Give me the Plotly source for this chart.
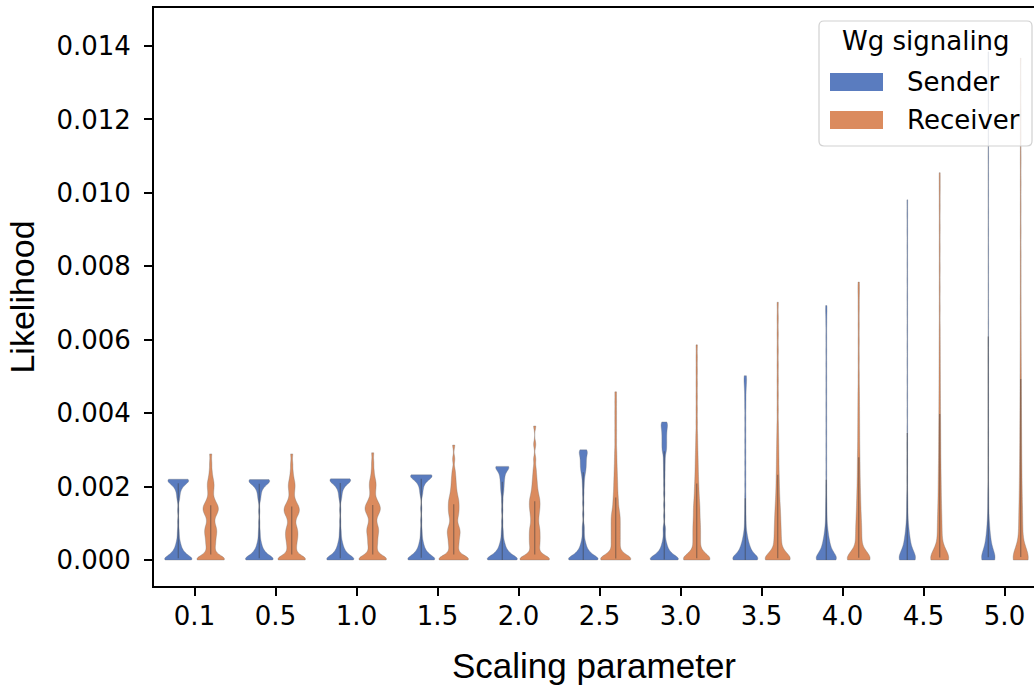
import plotly.graph_objects as go

# ---------------- data ----------------
CATEGORIES = ["0.1", "0.5", "1.0", "1.5", "2.0", "2.5", "3.0", "3.5", "4.0", "4.5", "5.0"]
GROUPS = ["Sender", "Receiver"]
UNIT = 1e-4  # sample values below are likelihoods in units of 1e-4

SENDER_01 = [0, 0, 0, 0, 0, 0, 0, 0, 0, 0, 0, 0, 0, 0, 0, 0, 0.6, 0.6, 0.6, 0.6, 1.3, 1.3, 1.3, 1.3, 1.8, 1.8, 1.8, 2.6, 2.6, 2.6, 3.5, 3.5, 4.5, 4.5, 5.6, 6.8, 8.2, 10.5, 13.5, 16.3, 17.2, 18.0, 18.7, 19.3, 19.9, 19.9, 20.4, 20.4, 20.9, 20.9, 21.3, 21.3, 21.3, 21.7, 21.7, 21.7, 22.0, 22.0, 22.0, 22.0, 22.0, 22.0, 22.0, 22.0, 22.0]
SENDER_05 = [0, 0, 0, 0, 0, 0, 0, 0, 0, 0, 0, 0, 0, 0, 0, 0, 0.6, 0.6, 0.6, 0.6, 1.2, 1.2, 1.2, 1.2, 1.8, 1.8, 1.8, 2.5, 2.5, 2.5, 3.4, 3.4, 4.4, 4.4, 5.5, 6.7, 8.1, 10.3, 13.3, 16.2, 17.1, 17.9, 18.6, 19.2, 19.8, 19.8, 20.3, 20.3, 20.8, 20.8, 21.2, 21.2, 21.2, 21.6, 21.6, 21.6, 21.9, 21.9, 21.9, 21.9, 21.9, 21.9, 21.9, 21.9, 21.9]
SENDER_10 = [0, 0, 0, 0, 0, 0, 0, 0, 0, 0, 0, 0, 0, 0, 0, 0, 0.6, 0.6, 0.6, 0.6, 1.3, 1.3, 1.3, 1.3, 1.9, 1.9, 1.9, 2.7, 2.7, 2.7, 3.6, 3.6, 4.6, 4.6, 5.7, 6.9, 8.3, 10.6, 13.6, 16.4, 17.3, 18.1, 18.8, 19.4, 20.0, 20.0, 20.5, 20.5, 21.0, 21.0, 21.4, 21.4, 21.4, 21.8, 21.8, 21.8, 22.1, 22.1, 22.1, 22.1, 22.1, 22.1, 22.1, 22.1, 22.1]
SENDER_15 = [0, 0, 0, 0, 0, 0, 0, 0, 0, 0, 0, 0, 0, 0, 0, 0, 0.6, 0.6, 0.6, 0.6, 1.3, 1.3, 1.3, 1.3, 1.8, 1.8, 1.8, 2.6, 2.6, 2.6, 3.5, 3.5, 4.5, 4.5, 5.6, 6.8, 8.3, 10.8, 14.0, 17.5, 18.4, 19.2, 19.9, 20.5, 21.1, 21.1, 21.6, 21.6, 22.1, 22.1, 22.5, 22.5, 22.5, 22.9, 22.9, 22.9, 23.2, 23.2, 23.2, 23.2, 23.2, 23.2, 23.2, 23.2, 23.2, 23.2]
SENDER_20 = [0, 0, 0, 0, 0, 0, 0, 0, 0, 0, 0, 0, 0, 0, 0, 0, 0.6, 0.6, 0.6, 0.6, 1.3, 1.3, 1.3, 1.3, 1.8, 1.8, 1.8, 2.6, 2.6, 2.6, 3.5, 3.5, 4.5, 4.5, 5.6, 6.8, 8.2, 10.5, 13.5, 16.0, 18.0, 19.0, 19.9, 20.7, 21.5, 22.2, 22.8, 23.4, 23.9, 24.3, 24.7, 25.0, 25.3, 25.5, 25.5, 25.5, 25.5, 25.5, 25.5]
SENDER_25 = [0, 0, 0, 0, 0, 0, 0, 0, 0, 0, 0, 0, 0, 0, 0, 0, 0.6, 0.6, 0.6, 0.6, 1.3, 1.3, 1.3, 1.3, 1.8, 1.8, 1.8, 2.6, 2.6, 2.6, 3.5, 3.5, 4.5, 4.5, 5.6, 6.8, 8.2, 9.5, 12.5, 15.5, 18.0, 20.0, 21.5, 22.7, 23.6, 24.2, 24.8, 25.3, 25.8, 26.3, 26.8, 27.3, 27.8, 28.3, 28.7, 29.1, 29.5, 29.8, 30.0, 30.0]
SENDER_30 = [0, 0, 0, 0, 0, 0, 0, 0, 0, 0, 0, 0, 0, 0, 0, 0, 0.6, 0.6, 0.6, 0.6, 1.3, 1.3, 1.3, 1.3, 1.8, 1.8, 1.8, 2.6, 2.6, 2.6, 3.5, 3.5, 4.5, 4.5, 5.6, 6.8, 8.2, 9.0, 12.0, 15.0, 18.0, 20.5, 22.7, 24.6, 26.3, 27.8, 29.2, 29.8, 30.4, 31.0, 31.6, 32.2, 32.8, 33.4, 34.0, 34.6, 35.2, 35.7, 36.2, 36.7, 37.1, 37.4, 37.6]
SENDER_35 = [0, 0, 0, 0, 0, 0, 0, 0, 0, 0, 0, 0, 0, 0, 0, 0, 0.7, 0.7, 0.7, 0.7, 1.5, 1.5, 1.5, 1.5, 2.3, 2.3, 2.3, 3.2, 3.2, 3.2, 4.2, 4.2, 4.2, 5.4, 5.4, 6.8, 6.8, 8.4, 10.2, 12.3, 14.8, 17.5, 20.5, 23.5, 26.5, 29.5, 32.5, 35.5, 38.5, 41.5, 44.0, 46.3, 48.0, 49.3, 50.2]
SENDER_40 = [0, 0, 0, 0, 0, 0, 0, 0, 0, 0, 0, 0, 0, 0, 0, 0, 0.8, 0.8, 0.8, 0.8, 1.7, 1.7, 1.7, 1.7, 2.7, 2.7, 2.7, 3.8, 3.8, 3.8, 5.0, 5.0, 5.0, 6.4, 6.4, 8.0, 8.0, 9.8, 11.8, 14.0, 16.5, 20.0, 23.7, 27.4, 31.1, 34.8, 38.5, 42.2, 45.9, 49.6, 53.3, 57.0, 60.7, 64.4, 67.4, 69.3]
SENDER_45 = [0, 0, 0, 0, 0, 0, 0, 0, 0, 0, 0, 0, 0, 0, 0, 0, 0.9, 0.9, 0.9, 0.9, 1.9, 1.9, 1.9, 1.9, 3.0, 3.0, 3.0, 4.2, 4.2, 4.2, 5.6, 5.6, 5.6, 7.1, 7.1, 8.8, 8.8, 10.7, 12.8, 15.1, 17.7, 22.2, 26.7, 31.2, 35.7, 40.2, 44.7, 49.2, 53.7, 58.2, 62.7, 67.2, 71.7, 76.2, 80.7, 85.2, 89.7, 94.0, 98.1]
SENDER_50 = [0, 0, 0, 0, 0, 0, 0, 0, 0, 0, 0, 0, 0, 0, 0, 0, 1.0, 1.0, 1.0, 1.0, 2.1, 2.1, 2.1, 2.1, 3.3, 3.3, 3.3, 4.6, 4.6, 4.6, 6.1, 6.1, 6.1, 7.8, 7.8, 9.7, 9.7, 11.8, 14.1, 16.7, 19.6, 24.6, 29.6, 34.6, 39.6, 44.6, 49.6, 54.6, 59.6, 64.6, 69.6, 74.6, 79.6, 84.6, 89.6, 94.6, 99.6, 104.6, 109.6, 114.6, 119.6, 124.6, 129.6, 134.6, 138.4]

RECEIVER_01 = [0, 0, 0, 0, 0, 0, 0, 0, 0, 0, 0.4, 0.4, 0.9, 1.5, 1.5, 2.2, 2.9, 3.5, 4.0, 4.5, 5.0, 5.5, 6.0, 6.5, 6.9, 7.3, 7.7, 8.1, 8.5, 8.9, 9.3, 9.9, 10.6, 11.3, 11.9, 12.4, 12.8, 13.1, 13.4, 13.7, 14.0, 14.3, 14.6, 14.9, 15.3, 15.7, 16.2, 16.9, 17.9, 18.8, 19.6, 20.3, 21.0, 21.7, 22.8, 24.3, 26.4, 28.9]
RECEIVER_05 = [0, 0, 0, 0, 0, 0, 0, 0, 0, 0, 0.4, 0.4, 0.9, 1.5, 1.5, 2.2, 2.9, 3.4, 3.9, 4.4, 4.9, 5.4, 5.8, 6.2, 6.6, 7.0, 7.4, 7.8, 8.2, 8.6, 9.0, 9.6, 10.3, 11.0, 11.6, 12.1, 12.5, 12.8, 13.1, 13.4, 13.7, 14.0, 14.3, 14.6, 15.0, 15.4, 15.9, 16.6, 17.6, 18.6, 19.4, 20.1, 20.8, 21.5, 22.6, 24.1, 26.2, 28.9]
RECEIVER_10 = [0, 0, 0, 0, 0, 0, 0, 0, 0, 0, 0.4, 0.4, 0.9, 1.5, 1.5, 2.2, 2.9, 3.5, 4.0, 4.5, 5.0, 5.5, 6.0, 6.5, 7.0, 7.4, 7.8, 8.2, 8.6, 9.0, 9.4, 10.0, 10.7, 11.4, 12.0, 12.5, 12.9, 13.2, 13.5, 13.8, 14.1, 14.4, 14.7, 15.0, 15.4, 15.8, 16.3, 17.0, 18.0, 18.9, 19.7, 20.4, 21.1, 21.8, 22.9, 24.5, 26.6, 29.2]
RECEIVER_15 = [0, 0, 0, 0, 0, 0, 0, 0, 0, 0, 0.4, 0.4, 0.9, 1.5, 1.5, 2.2, 2.9, 3.5, 4.0, 4.5, 5.0, 5.5, 6.0, 6.5, 6.9, 7.3, 7.7, 8.1, 8.5, 8.9, 9.4, 10.1, 10.9, 11.6, 12.2, 12.7, 13.2, 13.7, 14.2, 14.7, 15.2, 15.7, 16.2, 16.7, 17.3, 18.0, 18.8, 19.7, 20.7, 21.8, 23.0, 24.5, 27.5, 31.3]
RECEIVER_20 = [0, 0, 0, 0, 0, 0, 0, 0, 0, 0, 0.4, 0.4, 0.9, 1.5, 1.5, 2.2, 2.9, 3.5, 4.0, 4.5, 5.0, 5.5, 6.0, 6.5, 7.0, 7.5, 8.0, 8.5, 9.0, 9.6, 10.3, 11.0, 11.7, 12.3, 12.9, 13.5, 14.0, 14.5, 15.0, 15.5, 16.0, 16.5, 17.0, 17.6, 18.3, 19.1, 20.0, 21.0, 22.1, 23.4, 25.0, 27.5, 31.5, 36.5]
RECEIVER_25 = [0, 0, 0, 0, 0, 0, 0, 0, 0, 0, 0, 0, 0, 0, 0.4, 0.4, 0.4, 1.0, 1.0, 1.6, 1.6, 2.3, 2.9, 3.4, 3.9, 4.4, 4.9, 5.4, 5.9, 6.4, 6.9, 7.4, 7.9, 8.4, 8.9, 9.4, 9.9, 10.4, 10.9, 11.4, 11.9, 12.4, 12.9, 13.5, 14.2, 15.0, 15.8, 16.6, 17.5, 18.5, 19.6, 20.7, 21.9, 23.2, 24.6, 26.2, 28.0, 30.0, 32.6, 35.2, 37.8, 40.4, 43.1, 45.8]
RECEIVER_30 = [0, 0, 0, 0, 0, 0, 0, 0, 0, 0, 0, 0, 0, 0, 0.5, 0.5, 0.5, 1.1, 1.1, 1.8, 1.8, 2.6, 3.3, 3.9, 4.5, 5.1, 5.7, 6.3, 6.9, 7.5, 8.1, 8.7, 9.3, 9.9, 10.5, 11.2, 11.9, 12.6, 13.3, 14.0, 14.7, 15.4, 16.2, 17.1, 18.0, 19.0, 20.0, 21.1, 22.3, 23.6, 25.0, 26.5, 28.1, 29.9, 32.0, 34.4, 37.6, 41.0, 44.5, 48.0, 51.5, 55.0, 58.6]
RECEIVER_35 = [0, 0, 0, 0, 0, 0, 0, 0, 0, 0, 0, 0, 0, 0, 0.5, 0.5, 0.5, 1.2, 1.2, 2.0, 2.0, 2.8, 3.5, 4.1, 4.7, 5.3, 6.0, 6.7, 7.4, 8.1, 8.8, 9.5, 10.3, 11.1, 11.9, 12.7, 13.6, 14.5, 15.5, 16.6, 17.8, 19.1, 20.5, 22.0, 23.6, 25.4, 27.3, 29.3, 31.5, 34.0, 37.0, 41.0, 45.0, 49.0, 53.0, 57.2, 61.5, 65.8, 70.2]
RECEIVER_40 = [0, 0, 0, 0, 0, 0, 0, 0, 0, 0, 0, 0, 0, 0, 0.6, 0.6, 0.6, 1.3, 1.3, 2.1, 2.1, 3.0, 3.8, 4.6, 5.4, 6.2, 7.0, 7.8, 8.6, 9.4, 10.3, 11.2, 12.2, 13.2, 14.3, 15.5, 16.7, 18.0, 19.4, 20.9, 22.5, 24.3, 26.1, 28.0, 30.1, 32.4, 34.9, 37.5, 40.3, 43.3, 46.5, 50.5, 55.0, 59.5, 64.0, 68.5, 72.5, 75.7]
RECEIVER_45 = [0, 0, 0, 0, 0, 0, 0, 0, 0, 0, 0, 0, 0, 0, 0.7, 0.7, 0.7, 1.6, 1.6, 2.6, 2.6, 3.6, 4.6, 5.6, 6.6, 7.6, 8.6, 9.6, 10.6, 11.7, 12.9, 14.1, 15.4, 16.8, 18.3, 19.8, 21.4, 23.1, 24.9, 26.8, 28.9, 31.1, 33.4, 35.8, 38.4, 41.2, 44.2, 47.4, 50.8, 54.5, 58.5, 63.0, 68.5, 74.0, 79.5, 85.0, 90.5, 96.0, 101.0, 105.5]
RECEIVER_50 = [0, 0, 0, 0, 0, 0, 0, 0, 0, 0, 0, 0, 0, 0, 0.8, 0.8, 0.8, 1.9, 1.9, 3.0, 3.0, 4.1, 5.2, 6.3, 7.4, 8.5, 9.6, 10.8, 12.0, 13.2, 14.5, 15.9, 17.4, 19.0, 20.7, 22.5, 24.4, 26.4, 28.6, 30.9, 33.4, 36.0, 38.8, 41.8, 45.0, 48.4, 52.0, 56.0, 60.5, 65.5, 71.0, 77.0, 83.0, 89.5, 96.0, 102.5, 109.0, 115.5, 122.0, 129.0, 136.7]

SENDER = [SENDER_01, SENDER_05, SENDER_10, SENDER_15, SENDER_20, SENDER_25,
          SENDER_30, SENDER_35, SENDER_40, SENDER_45, SENDER_50]
RECEIVER = [RECEIVER_01, RECEIVER_05, RECEIVER_10, RECEIVER_15, RECEIVER_20, RECEIVER_25,
            RECEIVER_30, RECEIVER_35, RECEIVER_40, RECEIVER_45, RECEIVER_50]

# KDE bandwidths (same units as the samples)
SENDER_BW = [0.9, 0.9, 0.9, 0.9, 0.9, 0.9, 0.9, 1.2, 1.5, 1.8, 2.0]
RECEIVER_BW = [1.0, 1.0, 1.0, 1.0, 1.0, 1.2, 1.4, 1.6, 1.8, 2.2, 2.6]

Y_TICKS = [0.0, 0.002, 0.004, 0.006, 0.008, 0.010, 0.012, 0.014]

# ---------------- style ----------------
COLORS = {"Sender": "#5a7cbf", "Receiver": "#db8b5e"}
EDGE = "rgba(110,110,110,0.4)"
BOX = "rgba(60,60,60,0.42)"
TICK_FONT = dict(family="DejaVu Sans", size=26, color="black")
YTITLE_FONT = dict(family="Liberation Sans, Arial, sans-serif", size=34, color="black")
XTITLE_FONT = dict(family="Liberation Sans, Arial, sans-serif", size=35, color="black")

W, H = 1034, 692
PLOT_L, PLOT_R, PLOT_T, PLOT_B = 154, 1034, 8, 586


def px(x):
    return (x - PLOT_L) / (PLOT_R - PLOT_L)


def py(y):
    return (PLOT_B - y) / (PLOT_B - PLOT_T)


fig = go.Figure()
for group, samples, bws in (("Sender", SENDER, SENDER_BW), ("Receiver", RECEIVER, RECEIVER_BW)):
    for cat, vals, bw in zip(CATEGORIES, samples, bws):
        fig.add_trace(go.Violin(
            x=[cat] * len(vals),
            y=[v * UNIT for v in vals],
            name=group,
            legendgroup=group,
            showlegend=False,
            offsetgroup=group,
            alignmentgroup="violins",
            fillcolor=COLORS[group],
            line=dict(color=EDGE, width=0.8),
            opacity=1,
            spanmode="hard",
            bandwidth=bw * UNIT,
            scalemode="width",
            points=False,
            box=dict(visible=True, width=0.045, fillcolor=BOX, line=dict(color=BOX, width=0)),
            meanline=dict(visible=False),
            hoverinfo="y",
        ))

# manual legend (matplotlib-style box with wide colour patches)
lx0, lx1, ly0, ly1, r = 819, 1032, 21, 146, 5
rx, ry = r / (PLOT_R - PLOT_L), r / (PLOT_B - PLOT_T)
X0, X1, Y0, Y1 = px(lx0), px(lx1), py(ly0), py(ly1)
legend_path = (f"M{X0+rx},{Y0} L{X1-rx},{Y0} Q{X1},{Y0} {X1},{Y0-ry} "
               f"L{X1},{Y1+ry} Q{X1},{Y1} {X1-rx},{Y1} L{X0+rx},{Y1} "
               f"Q{X0},{Y1} {X0},{Y1+ry} L{X0},{Y0-ry} Q{X0},{Y0} {X0+rx},{Y0} Z")
shapes = [dict(type="path", path=legend_path, xref="paper", yref="paper",
               fillcolor="rgba(255,255,255,0.8)", line=dict(color="rgba(204,204,204,0.9)", width=1.2),
               layer="above")]
annotations = [dict(text="Wg signaling", x=px(926), y=py(41), xref="paper", yref="paper",
                    xanchor="center", yanchor="middle", showarrow=False, font=TICK_FONT)]
for label, yc in (("Sender", 82), ("Receiver", 120)):
    shapes.append(dict(type="rect", xref="paper", yref="paper", x0=px(830), x1=px(883),
                       y0=py(yc - 9), y1=py(yc + 9), fillcolor=COLORS[label],
                       line=dict(width=0), layer="above"))
    annotations.append(dict(text=label, x=px(905), y=py(yc), xref="paper", yref="paper",
                            xanchor="left", yanchor="middle", showarrow=False, font=TICK_FONT))

fig.update_layout(
    width=W, height=H,
    margin=dict(l=PLOT_L, r=W - PLOT_R, t=PLOT_T, b=H - PLOT_B, pad=0),
    paper_bgcolor="white", plot_bgcolor="white",
    violinmode="group", violingap=0.2, violingroupgap=0.07,
    showlegend=False,
    shapes=shapes, annotations=annotations,
    xaxis=dict(
        type="category", categoryorder="array", categoryarray=CATEGORIES,
        range=[-0.5, (PLOT_R - PLOT_L) / 81 - 0.5],
        showline=True, linecolor="black", linewidth=1.8, mirror=True,
        ticks="outside", ticklen=8, tickwidth=1.5, tickcolor="black",
        tickfont=TICK_FONT, ticklabelstandoff=-2,
        showgrid=False, zeroline=False, automargin=False,
        title=dict(text="Scaling parameter", font=XTITLE_FONT, standoff=23),
    ),
    yaxis=dict(
        range=[-0.000708, 0.015035],
        tickvals=Y_TICKS, tickformat=".3f",
        showline=True, linecolor="black", linewidth=1.8, mirror=False,
        ticks="outside", ticklen=8, tickwidth=1.5, tickcolor="black",
        tickfont=TICK_FONT, ticklabelstandoff=8,
        showgrid=False, zeroline=False, automargin=False,
        title=dict(text="Likelihood", font=YTITLE_FONT, standoff=12),
    ),
)

fig.write_html("out.html")
